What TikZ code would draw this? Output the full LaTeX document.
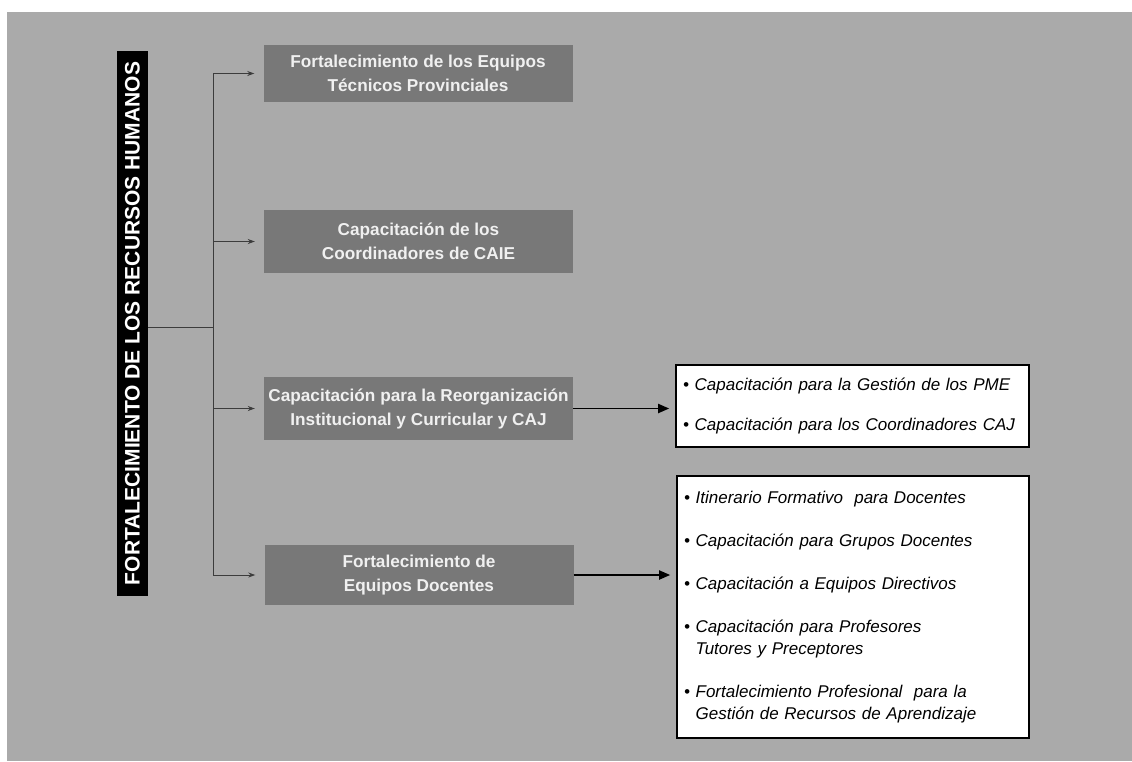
\documentclass[tikz,border=0pt]{standalone}
\usepackage{fontspec}
\setmainfont{Liberation Sans}
\usetikzlibrary{arrows.meta}
\definecolor{paper}{RGB}{170,170,170}
\definecolor{panel}{RGB}{120,120,120}
\definecolor{wire}{RGB}{60,60,60}
\begin{document}
\begin{tikzpicture}[x=1pt,y=-1pt,
  topic/.style={fill=panel, text=white!94!black,
    font=\fontsize{17.2}{24}\selectfont\bfseries, align=center,
    minimum width=309pt, minimum height=60pt, inner sep=0pt},
  itembox/.style={draw=black, line width=1.6pt, fill=white, align=left,
    inner xsep=7pt, inner ysep=0pt,
    font=\fontsize{17}{22}\selectfont\itshape},
  link/.style={draw=wire, line width=1pt},
  feed/.style={link, -{Stealth[length=7pt,width=5pt]}, shorten >=9pt},
  push/.style={draw=black, line width=1.8pt, -{Triangle[length=11pt,width=9pt]}, shorten >=6pt},
]
\useasboundingbox (0,0) rectangle (1132,761);
\fill[white] (0,0) rectangle (1132,761);
\fill[paper] (7,12) rectangle (1132,761);

% vertical title bar
\node[fill=black, text=white, font=\fontsize{21}{24}\selectfont\bfseries,
      rotate=90, minimum width=545pt, minimum height=31pt, inner sep=0pt]
  (bar) at (132.5,323.5) {FORTALECIMIENTO DE LOS RECURSOS HUMANOS};

% action lines
\node[topic, minimum height=57pt] (b1) at (418,73.5)
  {Fortalecimiento de los Equipos\\Técnicos Provinciales};
\node[topic, minimum height=63pt] (b2) at (418.5,241.5)
  {Capacitación de los\\Coordinadores de CAIE};
\node[topic, minimum height=63pt] (b3) at (418.5,408.5)
  {Capacitación para la Reorganización\\Institucional y Curricular y CAJ};
\node[topic] (b4) at (419,575)
  {Fortalecimiento de\\Equipos Docentes};

% detail lists
\node[itembox, text width=339pt, minimum height=82pt] (w1) at (852.5,406)
  {• Capacitación para la Gestión de los PME\\[18pt]
   • Capacitación para los Coordinadores CAJ};
\node[itembox, text width=338pt, minimum height=262pt] (w2) at (853,607)
  {• Itinerario Formativo~ para Docentes\\[21pt]
   • Capacitación para Grupos Docentes\\[21pt]
   • Capacitación a Equipos Directivos\\[21pt]
   • Capacitación para Profesores\\
   \phantom{• }Tutores y Preceptores\\[21pt]
   • Fortalecimiento Profesional~ para la\\
   \phantom{• }Gestión de Recursos de Aprendizaje};

% branching connectors
\coordinate (spine) at (213,0);
\coordinate (hub) at (213,327);
\draw[link] (spine |- b1.west) -- (spine |- b4.west);
\draw[link] (bar.south |- hub) -- (hub);
\foreach \b in {b1,b2,b3,b4}
  \draw[feed] (spine |- \b.west) -- (\b.west);

\draw[push] (b3.east) -- (b3.east -| w1.west);
\draw[push] (b4.east) -- (b4.east -| w2.west);
\end{tikzpicture}
\end{document}
